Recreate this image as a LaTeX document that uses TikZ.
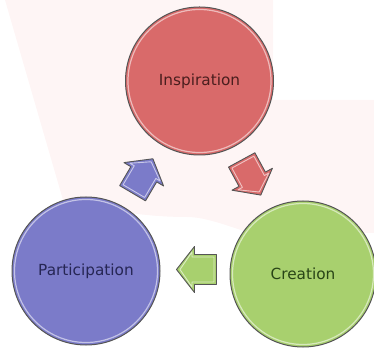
\documentclass[tikz,border=0pt]{standalone}
\usepackage{fontspec}
\setmainfont{DejaVu Sans}
\usetikzlibrary{calc}
\definecolor{redc}{HTML}{D96A6A}
\definecolor{bluec}{HTML}{7B7BC9}
\definecolor{greenc}{HTML}{A8D06E}
\definecolor{redt}{HTML}{4A1E1E}
\definecolor{bluet}{HTML}{262654}
\definecolor{greent}{HTML}{284416}
\definecolor{wmark}{HTML}{FEF5F5}
\definecolor{rim}{HTML}{555555}
\tikzset{
  bubble/.style={circle, inner sep=0pt, draw=rim, line width=1pt,
    font=\fontsize{15.3}{18}\selectfont},
  blockarrow/.pic={
    \draw[pic actions, draw=rim, line width=0.9pt, line join=round]
      (-20pt,-15pt) -- (2pt,-15pt) -- (2pt,-23pt) -- (20pt,0pt) -- (2pt,23pt)
      -- (2pt,15pt) -- (-20pt,15pt) -- cycle;
    \draw[white, opacity=0.6, line width=0.9pt, line join=round]
      (-17.5pt,-12.5pt) -- (4.5pt,-12.5pt) -- (4.5pt,-17.5pt) -- (16.5pt,0pt)
      -- (4.5pt,17.5pt) -- (4.5pt,12.5pt) -- (-17.5pt,12.5pt) -- cycle;
  }
}
\begin{document}
\begin{tikzpicture}[x=1pt,y=1pt]
\useasboundingbox (0,0) rectangle (374,350);
% faint watermark
\fill[wmark] (5,350) -- (273,350) -- (273,250) -- (374,250) -- (374,117)
  -- (250,117) .. controls (225,125) and (205,133) .. (187,133)
  .. controls (130,133) and (90,145) .. (63,150) -- cycle;
% circles
\node[bubble, fill=redc, text=redt, minimum size=148pt] (insp) at (199.5,269) {Inspiration};
\node[bubble, fill=bluec, text=bluet, minimum size=148pt] (part) at (86,79) {Participation};
\node[bubble, fill=greenc, text=greent, minimum size=146pt] (crea) at (303,76) {Creation};
% glossy inner rims
\draw[white, opacity=0.55, line width=1.2pt] (insp.center) circle (71.5pt);
\draw[white, opacity=0.55, line width=1.2pt] (part.center) circle (71.5pt);
\draw[white, opacity=0.55, line width=1.2pt] (crea.center) circle (70.5pt);
% block arrows
\pic[fill=redc, rotate=-61.5] at ($(insp)!0.5!(crea)$) {blockarrow};
\pic[fill=bluec, rotate=59.5] at ($(part)!0.5!(insp)$) {blockarrow};
\pic[fill=greenc, rotate=180] at ($(crea)!0.5!(part)+(2,3)$) {blockarrow};
\end{tikzpicture}
\end{document}
